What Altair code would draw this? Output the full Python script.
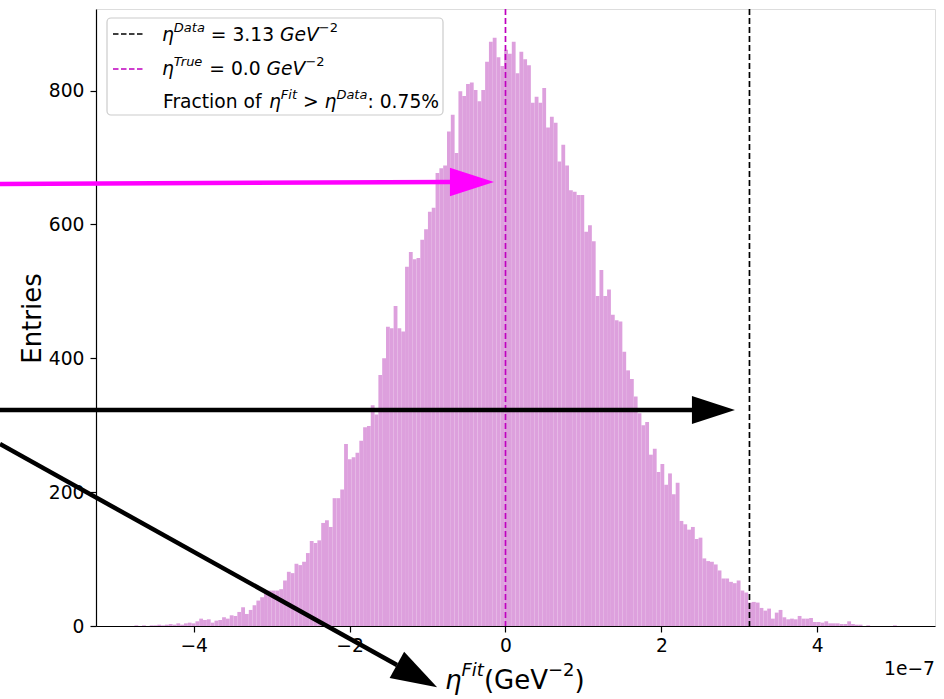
import altair as alt
import pandas as pd

# ---------------- data (x in units of 1e-7 GeV^-2) ----------------
bin_start = -4.76
bin_width = 0.0489
counts = [
    1, 0, 1, 0, 1, 1, 2, 1, 2, 3,
    2, 4, 2, 4, 5, 4, 7, 11, 9, 10,
    5, 8, 9, 13, 11, 16, 15, 21, 28, 18,
    24, 31, 38, 43, 49, 53, 53, 53, 55, 68,
    81, 79, 93, 91, 96, 109, 127, 124, 128, 154,
    158, 148, 191, 191, 204, 272, 249, 252, 259, 277,
    297, 299, 330, 316, 375, 400, 447, 445, 478, 445,
    440, 537, 559, 548, 550, 577, 593, 619, 625, 677,
    684, 688, 739, 764, 707, 799, 792, 810, 812, 801,
    784, 801, 843, 873, 879, 850, 837, 861, 855, 873,
    826, 858, 847, 838, 782, 791, 782, 804, 745, 761,
    752, 694, 719, 688, 651, 649, 644, 644, 589, 599,
    575, 493, 532, 493, 503, 465, 457, 455, 410, 382,
    369, 343, 318, 300, 305, 256, 265, 230, 242, 211,
    228, 197, 214, 157, 152, 144, 148, 130, 132, 101,
    97, 96, 92, 83, 71, 71, 66, 64, 68, 53,
    50, 35, 36, 35, 27, 23, 26, 11, 20, 24,
    13, 10, 11, 10, 15, 11, 11, 12, 6, 6,
    5, 7, 4, 4, 4, 3, 3, 7, 3, 2,
    2, 0, 1, 0, 0, 0, 0, 0, 0, 1,
]
x_ticks = [-4, -2, 0, 2, 4]
y_ticks = [0, 200, 400, 600, 800]
eta_data = 3.13
eta_true = 0.0

# rich-text pieces: (text, italic, superscript)
legend_row1 = [("η", True, False), ("Data", True, True), (" ", False, False),
               ("= 3.13", False, False), (" ", False, False), ("GeV", True, False),
               ("−2", False, True)]
legend_row2 = [("η", True, False), ("True", True, True), (" ", False, False),
               ("= 0.0", False, False), (" ", False, False), ("GeV", True, False),
               ("−2", False, True)]
legend_row3 = [("Fraction of", False, False), (" ", False, False), ("η", True, False),
               ("Fit", True, True), (" ", False, False), (">", False, False),
               (" ", False, False), ("η", True, False), ("Data", True, True),
               (": 0.75%", False, False)]
xtitle_pieces = [("η", True, False), ("Fit", True, True), ("(GeV", False, False),
                 ("−2", False, True), (")", False, False)]

# annotation arrows (data coordinates, extending beyond the axes)
arrow_names = ["magenta", "black_h", "black_d"]
arrow_x0 = [-6.485, -6.485, -6.485]
arrow_y0 = [660.5, 322.8, 272.0]
arrow_x1 = [-0.686, 2.418, -1.392]
arrow_y1 = [663.5, 322.8, -58.3]
head_x = [-0.430, 2.668, -1.135]
head_y = [663.5, 322.8, -74.7]
head_angle = [0, 0, 29]
head_size = [1936, 1849, 2116]
arrow_color = ["#FF00FF", "#000000", "#000000"]

# ---------------- helpers ----------------
FONT = "DejaVu Sans"
ADV = {' ': 0.318, '=': 0.838, '.': 0.318, 'G': 0.775, 'e': 0.615, 'V': 0.684,
       '−': 0.838, 'D': 0.770, 'a': 0.613, 't': 0.392, 'T': 0.611, 'r': 0.411,
       'u': 0.634, 'F': 0.575, 'i': 0.278, 'η': 0.634, '>': 0.838, ':': 0.337,
       '%': 0.950, 'o': 0.612, 'f': 0.352, 'c': 0.550, 'n': 0.634, '(': 0.390,
       ')': 0.390}
for d in "0123456789":
    ADV[d] = 0.636


def layout(pieces, x0, y0, size, sup_size, sup_shift):
    rows = []
    x = x0
    for text, italic, sup in pieces:
        fs = sup_size if sup else size
        if text.strip():
            rows.append({"t": text, "px": x, "py": y0 - (sup_shift if sup else 0),
                         "fs": fs, "it": italic})
        x += sum(ADV.get(ch, 0.6) for ch in text) * fs
    return rows


LEG_FS, LEG_SUP = 18.7, 13.0
pieces = []
pieces += layout(legend_row1, 66, 26, LEG_FS, LEG_SUP, 7)
pieces += layout(legend_row2, 66, 60, LEG_FS, LEG_SUP, 7)
pieces += layout(legend_row3, 67, 93, LEG_FS, LEG_SUP, 7)
pieces += layout(xtitle_pieces, 349, 672, 26, 18, 10)
pieces_df = pd.DataFrame(pieces)

# ---------------- tables ----------------
hist = pd.DataFrame({
    "x0": [bin_start + i * bin_width for i in range(len(counts))],
    "x1": [bin_start + (i + 1) * bin_width for i in range(len(counts))],
    "count": counts,
    "base": [0] * len(counts),
})
arrows = pd.DataFrame({
    "name": arrow_names, "x0": arrow_x0, "y0": arrow_y0,
    "x1": arrow_x1, "y1": arrow_y1, "hx": head_x, "hy": head_y,
    "angle": head_angle, "size": head_size, "color": arrow_color,
})

XMIN, XMAX = -5.253, 5.510
YMAX = 922

xscale = alt.Scale(domain=[XMIN, XMAX], nice=False, zero=False)
yscale = alt.Scale(domain=[0, YMAX], nice=False, zero=False)

bars = alt.Chart(hist).mark_rect(color="#DDA0DD", opacity=1).encode(
    x=alt.X("x0:Q", scale=xscale,
            axis=alt.Axis(values=x_ticks, format="d", title=None,
                          labelFontSize=18.7, labelFont=FONT, labelColor="black",
                          labelPadding=4, tickSize=6, tickWidth=1.2, tickColor="black",
                          domainColor="black", domainWidth=1.2, grid=False)),
    x2="x1:Q",
    y=alt.Y("count:Q", scale=yscale,
            axis=alt.Axis(values=y_ticks, format="d", title="Entries",
                          titleFontSize=26, titleFont=FONT, titleFontWeight="normal",
                          titleColor="black", titleBaseline="middle",
                          titleX=-64, titleY=309, titleAngle=-90,
                          labelFontSize=18.7, labelFont=FONT, labelColor="black",
                          labelPadding=6, tickSize=6, tickWidth=1.2, tickColor="black",
                          domainColor="black", domainWidth=1.2, grid=False)),
    y2="base:Q",
)

vlines_df = pd.DataFrame({"v": [eta_data, eta_true], "c": ["#000000", "#BF00BF"]})
vlines = alt.Chart(vlines_df).mark_rule(strokeDash=[6, 3], strokeWidth=1.7).encode(
    x=alt.X("v:Q", scale=xscale),
    color=alt.Color("c:N", scale=None, legend=None),
)

# legend box
leg_df = pd.DataFrame({"k": [0]})
leg_box = alt.Chart(leg_df).mark_rect(
    fill="white", fillOpacity=0.85, stroke="#cccccc", strokeWidth=1.2, cornerRadius=4
).encode(x=alt.value(11), x2=alt.value(347), y=alt.value(9), y2=alt.value(106))

leg_dash1 = alt.Chart(leg_df).mark_rule(
    color="black", strokeDash=[5.5, 2.5], strokeWidth=1.6
).encode(x=alt.value(17), x2=alt.value(49), y=alt.value(25))
leg_dash2 = alt.Chart(leg_df).mark_rule(
    color="#BF00BF", strokeDash=[5.5, 2.5], strokeWidth=1.6
).encode(x=alt.value(17), x2=alt.value(49), y=alt.value(60))

txt_enc = dict(
    x=alt.X("px:Q", scale=None), y=alt.Y("py:Q", scale=None),
    size=alt.Size("fs:Q", scale=None, legend=None), text="t:N",
)
txt_regular = alt.Chart(pieces_df[~pieces_df.it]).mark_text(
    align="left", baseline="middle", font=FONT, color="black"
).encode(**txt_enc)
txt_italic = alt.Chart(pieces_df[pieces_df.it]).mark_text(
    align="left", baseline="middle", font=FONT, color="black", fontStyle="italic"
).encode(**txt_enc)

offset_txt = alt.Chart(pd.DataFrame({"t": ["1e−7"]})).mark_text(
    align="right", baseline="middle", font=FONT, fontSize=18.7, color="black"
).encode(x=alt.value(839), y=alt.value(660), text="t:N")

# arrows
arrow_lines = alt.Chart(arrows).mark_rule(strokeWidth=4.5, strokeCap="butt").encode(
    x=alt.X("x0:Q", scale=xscale), y=alt.Y("y0:Q", scale=yscale),
    x2="x1:Q", y2="y1:Q",
    color=alt.Color("color:N", scale=None, legend=None),
)
arrow_heads = alt.Chart(arrows).mark_point(
    shape="M-1,-0.65L1,0L-1,0.65Z", filled=True, opacity=1, strokeWidth=0
).encode(
    x=alt.X("hx:Q", scale=xscale), y=alt.Y("hy:Q", scale=yscale),
    angle=alt.Angle("angle:Q", scale=None),
    size=alt.Size("size:Q", scale=None, legend=None),
    color=alt.Color("color:N", scale=None, legend=None),
)

chart = alt.layer(
    bars, vlines, leg_box, leg_dash1, leg_dash2, txt_regular, txt_italic, offset_txt,
    arrow_lines, arrow_heads,
).properties(
    width=839, height=617,
    autosize=alt.AutoSizeParams(type="none"),
    padding={"left": 96, "top": 9, "right": 9, "bottom": 73},
).configure_view(
    stroke="black", strokeWidth=1.2
).configure(background="white")

chart.save("out.html", embed_options={"renderer": "svg", "actions": False})
